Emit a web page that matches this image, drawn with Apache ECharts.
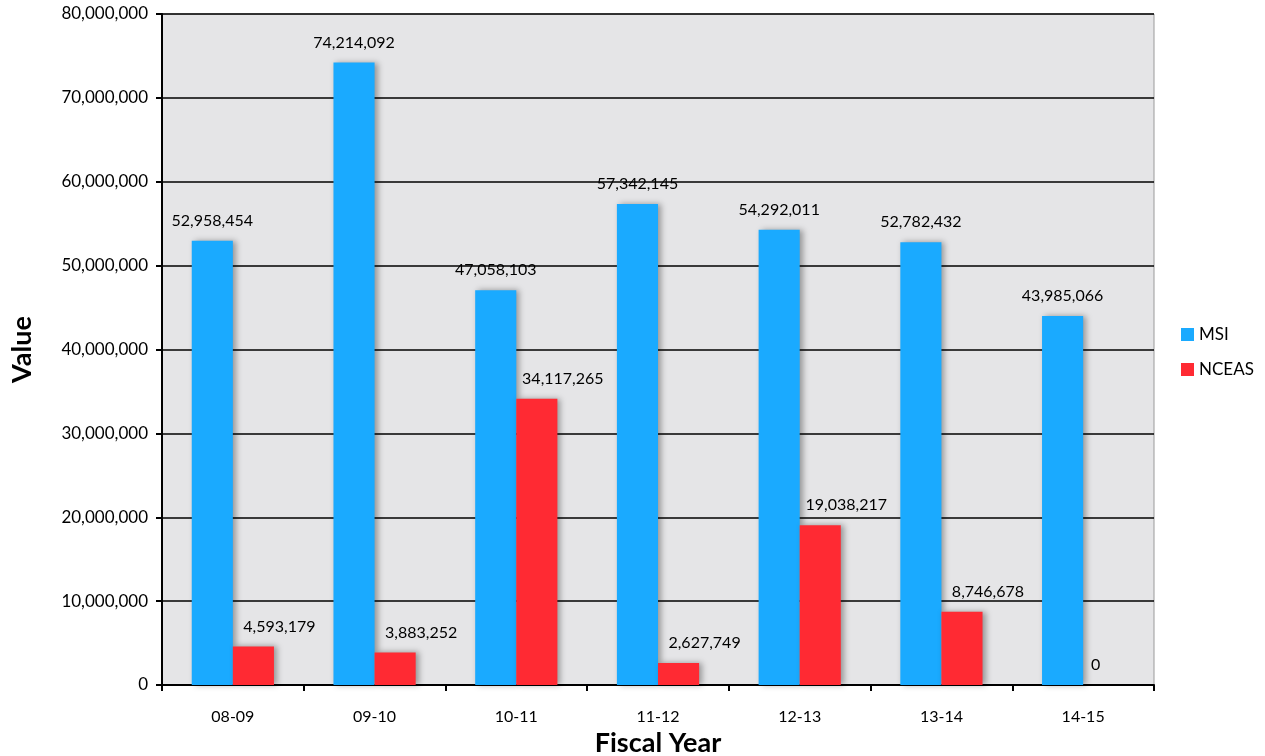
<!DOCTYPE html>
<html>
<head>
<meta charset="utf-8">
<script src="https://cdn.jsdelivr.net/npm/echarts@6/dist/echarts.min.js"></script>
<style>
  html, body { margin: 0; padding: 0; background: #fff; }
  #chart { width: 1265px; height: 756px; }
</style>
</head>
<body>
<div id="chart"></div>
<script>
var years = ['08-09', '09-10', '10-11', '11-12', '12-13', '13-14', '14-15'];
var msi = [52958454, 74214092, 47058103, 57342145, 54292011, 52782432, 43985066];
var nceas = [4593179, 3883252, 34117265, 2627749, 19038217, 8746678, 0];

var fontName = 'Lato';

function fmt(v) {
    return Number(v).toLocaleString('en-US');
}

var myChart = echarts.init(document.getElementById('chart'));

var option = {
    animation: false,
    textStyle: { fontFamily: fontName },
    grid: {
        left: 162, right: 111, top: 14, bottom: 71,
        outerBoundsMode: 'none',
        show: true,
        backgroundColor: '#e5e5e7',
        borderColor: '#9a9a9a',
        borderWidth: 1
    },
    legend: {
        orient: 'vertical',
        left: 1176,
        top: 321,
        itemWidth: 13,
        itemHeight: 13,
        itemGap: 18,
        icon: 'rect',
        textStyle: { fontSize: 17, color: '#000', fontFamily: fontName },
        data: ['MSI', 'NCEAS']
    },
    xAxis: {
        type: 'category',
        data: years,
        name: 'Fiscal Year',
        nameLocation: 'middle',
        nameGap: 42,
        nameTextStyle: { fontSize: 27, fontWeight: 'bold', color: '#000' },
        axisLine: { lineStyle: { color: '#000', width: 2 } },
        axisTick: { show: true, length: 6, lineStyle: { color: '#000', width: 2 } },
        axisLabel: { fontSize: 16, color: '#000', margin: 24 }
    },
    yAxis: {
        type: 'value',
        min: 0,
        max: 80000000,
        interval: 10000000,
        name: 'Value',
        nameLocation: 'middle',
        nameGap: 126,
        nameTextStyle: { fontSize: 27, fontWeight: 'bold', color: '#000' },
        axisLine: { show: true, lineStyle: { color: '#000', width: 2 } },
        axisTick: { show: true, length: 6, lineStyle: { color: '#000', width: 2 } },
        axisLabel: { fontSize: 17, color: '#000', margin: 14, formatter: fmt },
        splitLine: { lineStyle: { color: '#000', width: 1.5 } }
    },
    series: [
        {
            name: 'MSI',
            type: 'bar',
            data: msi,
            barGap: '0%',
            barCategoryGap: '42%',
            itemStyle: {
                color: '#1aaaff',
                shadowBlur: 6, shadowOffsetX: 3, shadowOffsetY: 0,
                shadowColor: 'rgba(0,0,0,0.35)'
            },
            label: {
                show: true, position: 'top', distance: 12,
                fontSize: 16, color: '#000',
                formatter: function (p) { return fmt(p.value); }
            }
        },
        {
            name: 'NCEAS',
            type: 'bar',
            data: nceas.map(function (v) {
                return v === 0 ? { value: v, label: { offset: [-8, 0] } } : v;
            }),
            itemStyle: {
                color: '#ff2a33',
                shadowBlur: 6, shadowOffsetX: 3, shadowOffsetY: 0,
                shadowColor: 'rgba(0,0,0,0.35)'
            },
            label: {
                show: true, position: 'top', distance: 12, offset: [26, 0],
                fontSize: 16, color: '#000',
                formatter: function (p) { return fmt(p.value); }
            }
        }
    ]
};

myChart.setOption(option);
</script>
</body>
</html>
